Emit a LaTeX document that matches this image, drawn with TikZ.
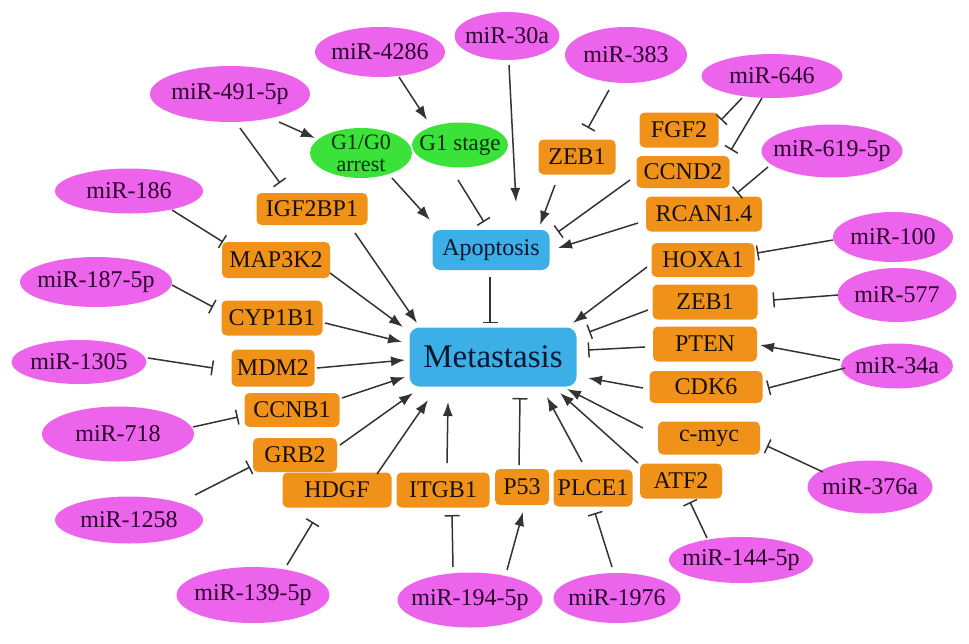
\documentclass[tikz,border=0pt]{standalone}
\usepackage{fontspec}
\setmainfont{Liberation Serif}
\usetikzlibrary{arrows.meta,shapes.geometric}
\definecolor{mirfill}{HTML}{EC64EC}
\definecolor{mirtext}{HTML}{2A002A}
\definecolor{genefill}{HTML}{F0921A}
\definecolor{genetext}{HTML}{1A1000}
\definecolor{procfill}{HTML}{3CAFE6}
\definecolor{proctext}{HTML}{061830}
\definecolor{cellfill}{HTML}{3AE23A}
\definecolor{celltext}{HTML}{063006}
\definecolor{linecol}{HTML}{333333}
\newcommand\lnk[5]{\draw[#1] ([shift={(#3)}]#2.center) -- ([shift={(#5)}]#4.center);}
\begin{document}
\begin{tikzpicture}[x=1pt,y=-1pt,
 sz/.style 2 args={minimum width=#1pt, minimum height=#2pt},
 mir/.style={ellipse, fill=mirfill, text=mirtext, inner xsep=-20pt, inner ysep=0pt, font=\fontsize{24}{24}\selectfont},
 gene/.style={rectangle, rounded corners=5pt, fill=genefill, text=genetext, inner sep=0pt, font=\fontsize{24}{24}\selectfont},
 proc/.style={rectangle, rounded corners=8pt, fill=procfill, text=proctext, inner sep=0pt},
 cell/.style={ellipse, fill=cellfill, text=celltext, inner xsep=-20pt, inner ysep=-8pt, align=center, font=\fontsize{22}{22}\selectfont},
 act/.style={draw=linecol, line width=1.5pt, -{Latex[length=14pt,width=10pt]}},
 inh/.style={draw=linecol, line width=1.5pt, -{Bar[width=15pt,line width=1.5pt]}},
]
\useasboundingbox (0,0) rectangle (969,643);
% miRNAs
\node[mir,sz={160}{56}] (m491) at (230,94) {miR-491-5p};
\node[mir,sz={130}{50}] (m4286) at (380,52) {miR-4286};
\node[mir,sz={105}{48}] (m30a) at (507,36) {miR-30a};
\node[mir,sz={122}{56}] (m383) at (626,55) {miR-383};
\node[mir,sz={141}{44}] (m646) at (772,76) {miR-646};
\node[mir,sz={141}{53}] (m619) at (832,151) {miR-619-5p};
\node[mir,sz={120}{50}] (m100) at (893,237) {miR-100};
\node[mir,sz={119}{54}] (m577) at (897,295) {miR-577};
\node[mir,sz={112}{45}] (m34a) at (897,366) {miR-34a};
\node[mir,sz={125}{53}] (m376a) at (870,487) {miR-376a};
\node[mir,sz={144}{46}] (m144) at (741,560) {miR-144-5p};
\node[mir,sz={127}{50}] (m1976) at (617,598) {miR-1976};
\node[mir,sz={145}{55}] (m194) at (470,600) {miR-194-5p};
\node[mir,sz={153}{56}] (m139) at (253,595) {miR-139-5p};
\node[mir,sz={148}{47}] (m1258) at (129,520) {miR-1258};
\node[mir,sz={152}{55}] (m718) at (118,434) {miR-718};
\node[mir,sz={135}{44}] (m1305) at (79,362) {miR-1305};
\node[mir,sz={152}{50}] (m187) at (96,282) {miR-187-5p};
\node[mir,sz={148}{45}] (m186) at (129,191) {miR-186};
% genes
\node[gene,sz={111}{32}] (igf) at (312,209) {IGF2BP1};
\node[gene,sz={108}{36}] (map) at (276,260) {MAP3K2};
\node[gene,sz={101}{35}] (cyp) at (272,318) {CYP1B1};
\node[gene,sz={83}{37}] (mdm) at (273,368) {MDM2};
\node[gene,sz={95}{34}] (ccnb) at (292,410) {CCNB1};
\node[gene,sz={84}{34}] (grb) at (295,455) {GRB2};
\node[gene,sz={109}{35}] (hdgf) at (337,490) {HDGF};
\node[gene,sz={93}{35}] (itgb) at (443,490) {ITGB1};
\node[gene,sz={54}{36}] (p53) at (522,487) {P53};
\node[gene,sz={79}{37}] (plce) at (593,488) {PLCE1};
\node[gene,sz={82}{35}] (atf) at (681,481) {ATF2};
\node[gene,sz={102}{33}] (cmyc) at (709,438) {c-myc};
\node[gene,sz={113}{32}] (cdk) at (706,387) {CDK6};
\node[gene,sz={104}{35}] (pten) at (705,344) {PTEN};
\node[gene,sz={105}{35}] (zebr) at (705,302) {ZEB1};
\node[gene,sz={103}{34}] (hox) at (703,260) {HOXA1};
\node[gene,sz={116}{35}] (rcan) at (704,214) {RCAN1.4};
\node[gene,sz={93}{32}] (ccnd) at (683,172) {CCND2};
\node[gene,sz={79}{35}] (fgf) at (679,130) {FGF2};
\node[gene,sz={77}{35}] (zebt) at (577,157) {ZEB1};
% processes
\node[proc,sz={117}{40},font=\fontsize{24}{24}\selectfont] (apop) at (491,250) {Apoptosis};
\node[proc,sz={167}{59},rounded corners=10pt,font=\fontsize{33}{33}\selectfont] (meta) at (493,357) {Metastasis};
\node[cell,sz={102}{50}] (g1g0) at (361,153) {G1/G0\\arrest};
\node[cell,sz={96}{45},font=\fontsize{23}{23}\selectfont] (g1s) at (460,145) {G1 stage};
% connectors
\lnk{inh}{m491}{10,34}{igf}{-32,-26}
\lnk{act}{m491}{49,28}{g1g0}{-46,-15}
\lnk{act}{m4286}{19,25}{g1s}{-33,-25}
\lnk{act}{m30a}{2,29}{apop}{25,-48}
\lnk{inh}{m383}{-17,35}{zebt}{11,-29}
\lnk{act}{zebt}{-22,28}{apop}{49,-25}
\lnk{inh}{m646}{-30,22}{fgf}{42,-10}
\lnk{inh}{m646}{-10,22}{ccnd}{48,-22}
\lnk{inh}{m619}{-64,16}{rcan}{33,-21}
\lnk{inh}{ccnd}{-53,8}{apop}{67,-18}
\lnk{act}{rcan}{-66,9}{apop}{67,-2}
\lnk{inh}{m100}{-60,3}{hox}{54,-7}
\lnk{act}{hox}{-56,7}{meta}{80,-34}
\lnk{inh}{m577}{-59,0}{zebr}{68,-2}
\lnk{inh}{zebr}{-57,8}{meta}{96,-25}
\lnk{inh}{pten}{-60,3}{meta}{95,-7}
\lnk{act}{m34a}{-57,-6}{pten}{55,1}
\lnk{inh}{m34a}{-52,2}{cdk}{62,1}
\lnk{act}{cdk}{-63,1}{meta}{95,21}
\lnk{act}{cmyc}{-66,-10}{meta}{74,32}
\lnk{inh}{m376a}{-47,-15}{cmyc}{58,8}
\lnk{act}{atf}{-43,-18}{meta}{67,36}
\lnk{inh}{m144}{-34,-22}{atf}{9,21}
\lnk{act}{plce}{-11,-26}{meta}{54,40}
\lnk{inh}{m1976}{-5,-31}{plce}{2,25}
\lnk{inh}{p53}{-3,-22}{meta}{27,41}
\lnk{act}{m194}{37,-30}{p53}{1,25}
\lnk{inh}{m194}{-17,-33}{itgb}{9,25}
\lnk{act}{itgb}{4,-27}{meta}{-45,45}
\lnk{inh}{m139}{34,-30}{hdgf}{-24,32}
\lnk{act}{hdgf}{40,-16}{meta}{-65,43}
\lnk{act}{grb}{45,-10}{meta}{-80,36}
\lnk{inh}{m1258}{66,-25}{grb}{-45,12}
\lnk{inh}{m718}{75,-7}{ccnb}{-54,7}
\lnk{act}{ccnb}{50,-12}{meta}{-88,20}
\lnk{inh}{m1305}{69,-4}{mdm}{-60,0}
\lnk{act}{mdm}{44,0}{meta}{-88,3}
\lnk{inh}{m187}{76,3}{cyp}{-59,-11}
\lnk{act}{cyp}{53,5}{meta}{-91,-15}
\lnk{inh}{m186}{43,19}{map}{-53,-18}
\lnk{act}{map}{54,13}{meta}{-90,-30}
\lnk{act}{igf}{43,24}{meta}{-76,-34}
\lnk{act}{g1g0}{31,25}{apop}{-61,-30}
\lnk{inh}{g1s}{-2,35}{apop}{-7,-28}
\lnk{inh}{apop}{-1,27}{meta}{-3,-34}
\end{tikzpicture}
\end{document}
